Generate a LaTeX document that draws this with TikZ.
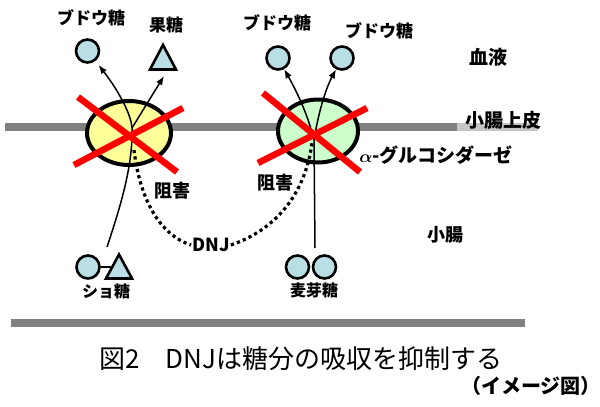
\documentclass[tikz,border=0pt]{standalone}
\usepackage{amsmath}
\usepackage{fontspec}
\setmainfont{Noto Sans CJK JP}
\usetikzlibrary{shapes.geometric,arrows.meta}
\definecolor{sugar}{RGB}{185,223,229}
\definecolor{enzY}{RGB}{255,255,153}
\definecolor{enzG}{RGB}{204,255,204}
\definecolor{barc}{RGB}{128,128,128}
\begin{document}
\begin{tikzpicture}[x=1pt,y=-1pt,
  membrane/.style={draw=barc,line width=8.5pt},
  enzyme/.style={ellipse,draw=black,line width=4pt,inner sep=0pt},
  sug/.style={circle,draw=black,line width=2.6pt,fill=sugar,minimum size=23pt,inner sep=0pt},
  tri/.style={draw=black,line width=2.6pt,fill=sugar,line join=miter},
  flow/.style={line width=1.5pt,-{Latex[length=9pt,width=7pt]}},
  plain/.style={line width=1.5pt},
  inhib/.style={line width=3.2pt,dash pattern=on 3.2pt off 3.2pt},
  cross/.style={draw=red,line width=6.5pt},
  blbl/.style={inner sep=0pt,font=\fontsize{17}{17}\selectfont\bfseries},
  rlbl/.style={inner sep=0pt,font=\fontsize{19}{19}\selectfont\bfseries},
  mlbl/.style={inner sep=0pt,font=\fontsize{18}{18}\selectfont\bfseries},
  slbl/.style={inner sep=0pt,font=\fontsize{16}{16}\selectfont\bfseries}]
\useasboundingbox (0,0) rectangle (600,407);
% membranes
\coordinate (m1a) at (5,127); \coordinate (m1b) at (538,127);
\coordinate (m2a) at (11,323); \coordinate (m2b) at (525,323);
\draw[membrane] (m1a) -- (m1b);
\draw[membrane] (m2a) -- (m2b);
\node[fill=white,fill opacity=0.55,text opacity=1,minimum width=93pt,minimum height=24pt,inner sep=0pt,font=\fontsize{19}{19}\selectfont\bfseries] (epi) at (503.5,120) {小腸上皮};
% enzymes
\node[enzyme,fill=enzY,minimum width=84pt,minimum height=64pt] (e1) at (129,133) {};
\node[enzyme,fill=enzG,minimum width=80pt,minimum height=63pt] (e2) at (318,131) {};
% DNJ and inhibition
\node[inner sep=1pt,font=\fontsize{18}{18}\selectfont\bfseries] (dnj) at (211,245) {DNJ};
\coordinate (i1) at (134,150);
\coordinate (i2) at (312,143);
\draw[inhib] (i1) .. controls (140,200) and (160,235) .. (dnj.west);
\draw[inhib] (dnj.east) .. controls (275,230) and (305,195) .. (i2);
% sugars top
\node[sug] (c1) at (87.5,51) {};
\draw[tri] (163,45) -- (176,69.5) -- (150,69.5) -- cycle;
\coordinate (t1) at (164,76);
\node[sug] (c3) at (278,58) {};
\node[sug] (c4) at (342,58) {};
% sugars bottom
\node[sug] (c5) at (88,267) {};
\coordinate (t2) at (111,267);
\draw[line width=2pt] (c5.east) -- (t2);
\draw[tri] (119,254.5) -- (132,278.5) -- (106,278.5) -- cycle;
\node[sug] (m1) at (297.5,267) {};
\node[sug] (m2) at (324.5,267) {};
% flow lines
\coordinate (b1) at (107,247);
\coordinate (j1) at (132,128);
\coordinate (b2) at (315,248);
\coordinate (j2) at (314,140);
\draw[plain] (b1) .. controls (121,205) and (133,165) .. (j1);
\draw[flow,shorten >=5pt] (j1) .. controls (131,112) and (115,86) .. (c1);
\draw[flow] (j1) -- (t1);
\draw[plain] (b2) -- (j2);
\draw[flow] (j2) .. controls (308,115) and (297,92) .. (c3);
\draw[flow] (j2) .. controls (318,115) and (325,90) .. (c4);
% red crosses
\coordinate (x1a) at (78,97); \coordinate (x1b) at (177,172);
\coordinate (x1c) at (74,165); \coordinate (x1d) at (183,108);
\coordinate (x2a) at (263,93); \coordinate (x2b) at (360,172);
\coordinate (x2c) at (258,163); \coordinate (x2d) at (367,108);
\draw[cross] (x1a) -- (x1b);
\draw[cross] (x1c) -- (x1d);
\draw[cross] (x2a) -- (x2b);
\draw[cross] (x2c) -- (x2d);
% labels
\node[blbl] (l1) at (91,18) {ブドウ糖};
\node[blbl] (l2) at (166,25) {果糖};
\node[blbl] (l3) at (277,23) {ブドウ糖};
\node[blbl] (l4) at (379,31) {ブドウ糖};
\node[rlbl] (blood) at (488,57) {血液};
\node[rlbl] (enz) at (436,155) {$\boldsymbol{\alpha}$-グルコシダーゼ};
\node[mlbl] (inh1) at (172,191) {阻害};
\node[mlbl] (inh2) at (275,183) {阻害};
\node[mlbl] (si) at (445,235) {小腸};
\node[slbl] (suc) at (106,291) {ショ糖};
\node[slbl] (mal) at (314,290) {麦芽糖};
\node[inner sep=0pt,font=\fontsize{26}{26}\selectfont] (title) at (301,359) {図2　DNJは糖分の吸収を抑制する};
\node[inner sep=0pt,font=\fontsize{20}{20}\selectfont\bfseries] (note) at (531,386) {（イメージ図）};
\end{tikzpicture}
\end{document}
